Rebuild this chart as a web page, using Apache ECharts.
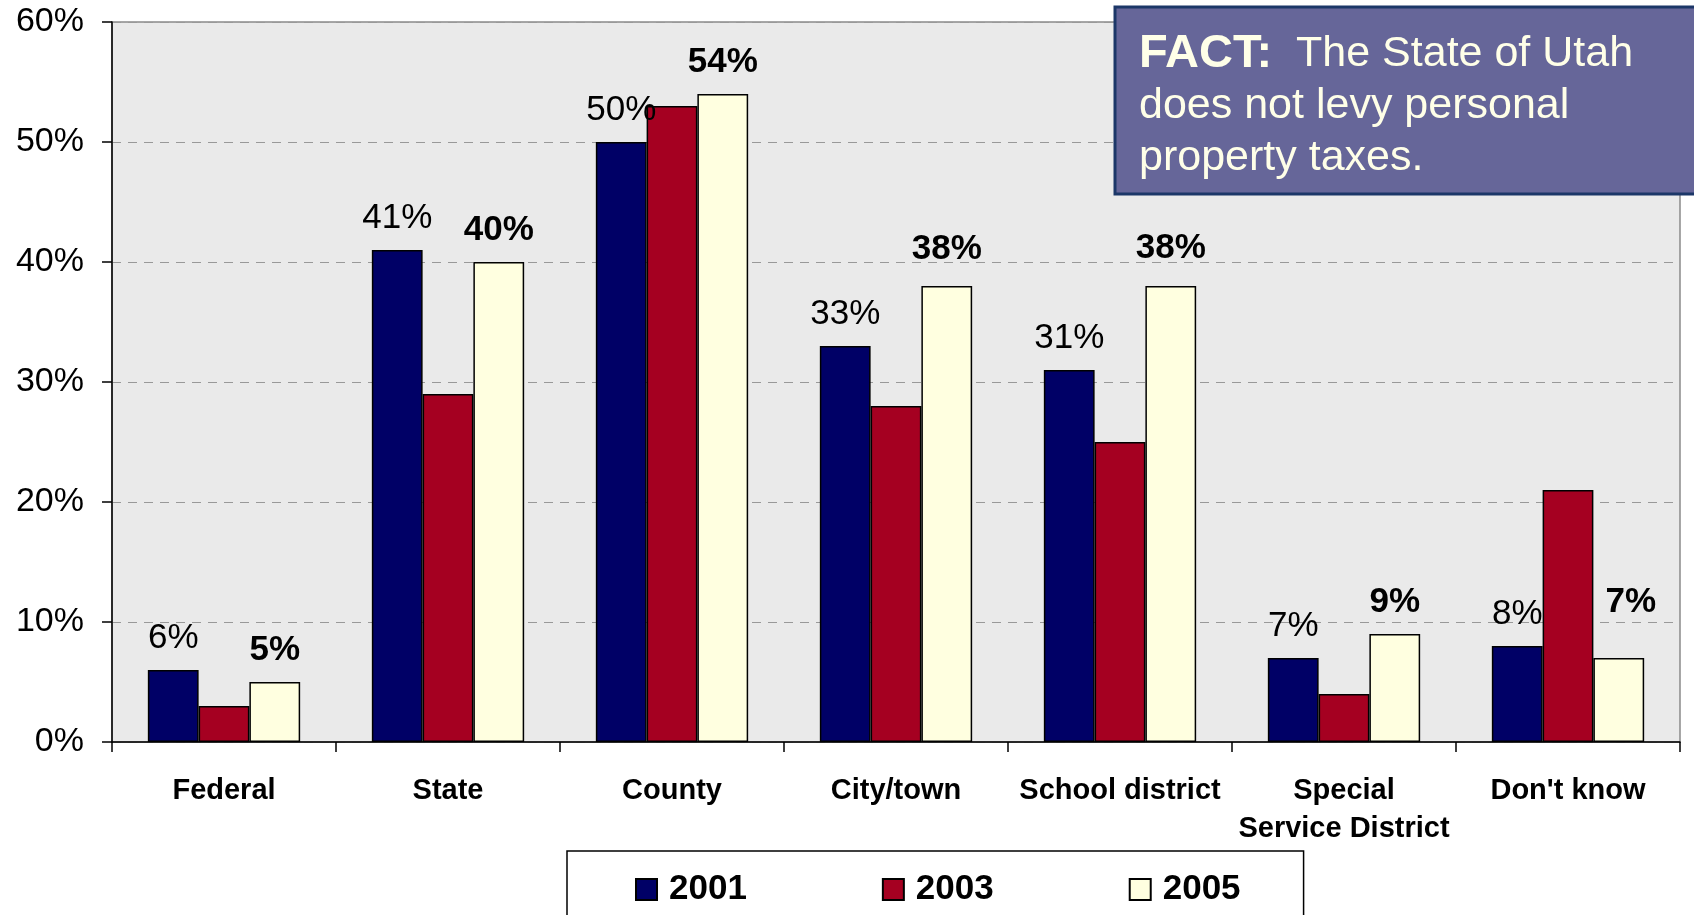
<!DOCTYPE html>
<html>
<head>
<meta charset="utf-8">
<script src="https://cdn.jsdelivr.net/npm/echarts@6/dist/echarts.min.js"></script>
<style>
html,body{margin:0;padding:0;background:#fff;}
#chart{width:1694px;height:915px;}
</style>
</head>
<body>
<div id="chart"></div>
<script>
const categories = ['Federal', 'State', 'County', 'City/town', 'School district', 'Special\nService District', "Don't know"];
const years = ['2001', '2003', '2005'];
const v2001 = [6, 41, 50, 33, 31, 7, 8];
const v2003 = [3, 29, 53, 28, 25, 4, 21];
const v2005 = [5, 40, 54, 38, 38, 9, 7];
const yMin = 0, yMax = 60, yInterval = 10;
const factLead = 'FACT:';
const factLines = ['The State of Utah', 'does not levy personal', 'property taxes.'];

const FONT = '"Liberation Sans", Arial, sans-serif';
const chart = echarts.init(document.getElementById('chart'), null, {renderer: 'canvas'});

const labelBase = {show: true, position: 'top', distance: 14, formatter: '{c}%', fontSize: 35, color: '#000', fontFamily: FONT};

// label nudges for 2005 series (index -> offset)
const label2005Nudge = {3: [0, -5], 4: [0, -6], 6: [12, -24]};

const option = {
  backgroundColor: '#fff',
  animation: false,
  textStyle: {fontFamily: FONT},
  grid: {left: 112, right: 14, top: 22, bottom: 173, show: true, backgroundColor: '#EAEAEA', borderColor: '#8a8a8a', borderWidth: 1.5},
  legend: {
    data: years,
    top: 851, left: 567,
    itemGap: 135, itemWidth: 21, itemHeight: 21,
    padding: [21, 63, 60, 68],
    borderColor: '#000', borderWidth: 1.5, backgroundColor: '#fff',
    icon: 'rect',
    textStyle: {fontSize: 35, fontWeight: 'bold', color: '#000', fontFamily: FONT, padding: [0, 0, 0, 7]}
  },
  xAxis: {
    type: 'category', data: categories,
    axisLine: {lineStyle: {color: '#000', width: 1.5}},
    axisTick: {show: true, length: 10, interval: 0, lineStyle: {color: '#000', width: 1.5}},
    axisLabel: {interval: 0, fontSize: 29, fontWeight: 'bold', color: '#000', margin: 30, lineHeight: 38, fontFamily: FONT}
  },
  yAxis: {
    type: 'value', min: yMin, max: yMax, interval: yInterval,
    axisLine: {show: true, lineStyle: {color: '#000', width: 1.5}},
    axisTick: {show: true, length: 10, lineStyle: {color: '#000', width: 1.5}},
    axisLabel: {formatter: '{value}%', fontSize: 34, color: '#000', margin: 28, fontFamily: FONT},
    splitLine: {show: true, lineStyle: {color: '#999', type: [9, 7], width: 1}}
  },
  series: [
    {name: '2001', type: 'bar', data: v2001, barGap: '0%', barCategoryGap: '32%',
     itemStyle: {color: '#000066', borderColor: '#000', borderWidth: 1.5},
     label: Object.assign({}, labelBase)},
    {name: '2003', type: 'bar', data: v2003,
     itemStyle: {color: '#A50021', borderColor: '#000', borderWidth: 1.5},
     label: {show: false}},
    {name: '2005', type: 'bar',
     data: v2005.map((v, i) => label2005Nudge[i] ? {value: v, label: {offset: label2005Nudge[i]}} : v),
     itemStyle: {color: '#FFFFE0', borderColor: '#000', borderWidth: 1.5},
     label: Object.assign({}, labelBase, {fontWeight: 'bold'})}
  ],
  graphic: [
    {type: 'rect', z: 100, shape: {x: 1115, y: 7, width: 640, height: 187},
     style: {fill: '#666699', stroke: '#1C3768', lineWidth: 3}},
    {type: 'text', z: 101, x: 1139, y: 28,
     style: {
       text: '{b|' + factLead + '}{n|  ' + factLines[0] + '}\n{n|' + factLines[1] + '}\n{n|' + factLines[2] + '}',
       fill: '#FFFFE8', fontFamily: FONT, fontSize: 43, lineHeight: 52,
       rich: {
         b: {fontWeight: 'bold', fontSize: 47, fill: '#FFFFE8', lineHeight: 52, fontFamily: FONT},
         n: {fontSize: 43, fill: '#FFFFE8', lineHeight: 52, fontFamily: FONT}
       }
     }}
  ]
};
chart.setOption(option);
</script>
</body>
</html>
